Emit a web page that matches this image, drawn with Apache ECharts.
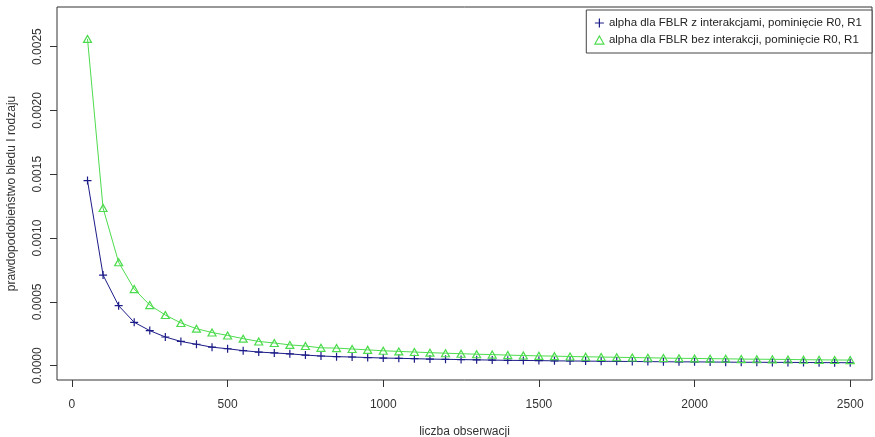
<!DOCTYPE html>
<html>
<head>
<meta charset="utf-8">
<script src="https://cdn.jsdelivr.net/npm/echarts@6/dist/echarts.min.js"></script>
<style>html,body{margin:0;padding:0;background:#fff;}#c{width:875px;height:437px;}</style>
</head>
<body>
<div id="c"></div>
<script>
const xValues = [50,100,150,200,250,300,350,400,450,500,550,600,650,700,750,800,850,900,950,1000,
  1050,1100,1150,1200,1250,1300,1350,1400,1450,1500,1550,1600,1650,1700,1750,1800,1850,1900,1950,2000,
  2050,2100,2150,2200,2250,2300,2350,2400,2450,2500];
const alphaZInterakcjami = [0.00145,0.00071,0.00047,0.00034,0.000275,0.000225,0.00019,0.000168,0.000145,0.000133,
  0.000118,0.000107,0.0001,0.000093,0.000083,0.000076,0.000071,0.000068,0.000064,0.00006,
  0.000058,0.000055,0.000052,0.00005,0.000048,0.000046,0.000044,0.000042,0.000041,0.00004,
  0.000038,0.000037,0.000036,0.000035,0.000034,0.000033,0.000032,0.000031,0.00003,0.00003,
  0.000029,0.000028,0.000027,0.000027,0.000026,0.000026,0.000025,0.000024,0.000024,0.000023];
const alphaBezInterakcji = [0.00256,0.001235,0.00081,0.0006,0.000475,0.000397,0.000335,0.00029,0.00026,0.000237,
  0.000212,0.00019,0.000178,0.000163,0.000154,0.00014,0.000138,0.000131,0.000124,0.000117,
  0.000112,0.000107,0.000102,0.000098,0.000094,0.00009,0.000087,0.000083,0.00008,0.000077,
  0.000075,0.000072,0.00007,0.000068,0.000066,0.000064,0.000062,0.00006,0.000058,0.000057,
  0.000055,0.000054,0.000052,0.000051,0.00005,0.000049,0.000047,0.000046,0.000045,0.000044];
const xTicks = [0,500,1000,1500,2000,2500];
const yTicks = [0,0.0005,0.001,0.0015,0.002,0.0025];
const seriesNames = ['alpha dla FBLR z interakcjami, pominięcie R0, R1','alpha dla FBLR bez interakcji, pominięcie R0, R1'];

const blue = '#1c1c88';
const green = '#4ddc4d';
const plusPath = 'path://M0,5 L10,5 M5,0 L5,10';
const triPath = 'path://M5,0 L10,9 L0,9 Z';
const font = 'Liberation Sans, Arial, sans-serif';

const chart = echarts.init(document.getElementById('c'), null, {renderer:'canvas'});
chart.setOption({
  animation:false,
  backgroundColor:'#fff',
  textStyle:{fontFamily:font},
  grid:{left:57,top:7,right:3,bottom:57,show:true,borderColor:'#333',borderWidth:1,backgroundColor:'transparent',
    containLabel:false, outerBoundsMode:'none'},
  legend:{
    orient:'vertical', right:3, top:10,
    backgroundColor:'#fff', borderColor:'#444', borderWidth:1,
    padding:[7,10,7,8], itemGap:5, itemWidth:9, itemHeight:9,
    textStyle:{fontSize:11.5,color:'#222',fontFamily:font},
    data:[
      {name:seriesNames[0], icon:plusPath, itemStyle:{color:'transparent',borderColor:blue,borderWidth:1.2}},
      {name:seriesNames[1], icon:triPath, itemStyle:{color:'transparent',borderColor:green,borderWidth:1.2}}
    ]
  },
  xAxis:{
    type:'value', min:-48, max:2570,
    name:'liczba obserwacji', nameLocation:'middle', nameGap:46,
    nameTextStyle:{fontSize:12,color:'#333',fontFamily:font},
    axisLine:{show:false,onZero:false},
    axisTick:{show:true,length:7,lineStyle:{color:'#333'},customValues:xTicks},
    axisLabel:{fontSize:12,color:'#333',margin:19,customValues:xTicks,fontFamily:font,formatter:v=>String(v)},
    splitLine:{show:false}
  },
  yAxis:{
    type:'value', min:-0.000112, max:0.00281,
    name:'prawdopodobieństwo bledu I rodzaju', nameLocation:'middle', nameGap:39, nameRotate:90,
    nameTextStyle:{fontSize:12,color:'#333',fontFamily:font},
    axisLine:{show:false,onZero:false},
    axisTick:{show:true,length:7,lineStyle:{color:'#333'},customValues:yTicks},
    axisLabel:{fontSize:12,color:'#333',margin:13,rotate:90,customValues:yTicks,fontFamily:font,
      formatter:v=>v.toFixed(4)},
    splitLine:{show:false}
  },
  series:[
    {name:seriesNames[0], type:'line', data:xValues.map((x,i)=>[x,alphaZInterakcjami[i]]),
      symbol:plusPath, symbolSize:8, showAllSymbol:true,
      lineStyle:{color:blue,width:1},
      itemStyle:{color:'transparent',borderColor:blue,borderWidth:1.2}},
    {name:seriesNames[1], type:'line', data:xValues.map((x,i)=>[x,alphaBezInterakcji[i]]),
      symbol:triPath, symbolSize:[8,7], showAllSymbol:true,
      lineStyle:{color:green,width:1},
      itemStyle:{color:'transparent',borderColor:green,borderWidth:1.2}}
  ]
});
</script>
</body>
</html>
